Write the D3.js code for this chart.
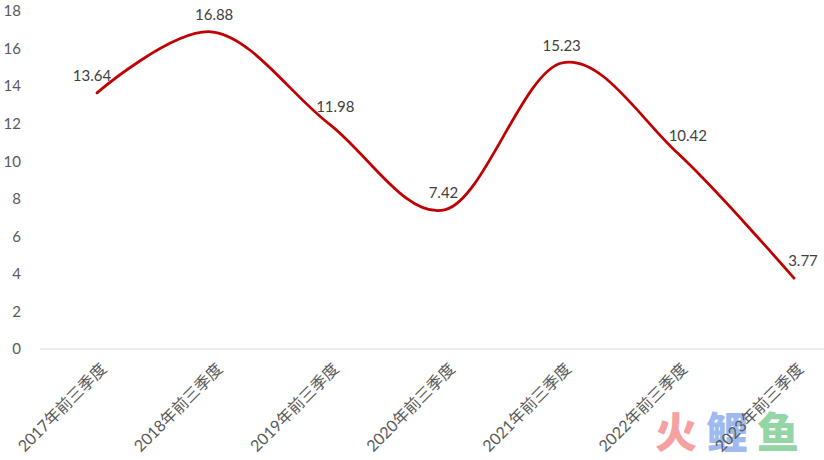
<!DOCTYPE html>
<html>
<head>
<meta charset="utf-8">
<script src="https://cdn.jsdelivr.net/npm/d3@7/dist/d3.min.js"></script>
<style>
  html, body { margin: 0; padding: 0; background: #fff; }
  svg { display: block; }
</style>
</head>
<body>
<svg id="chart" width="824" height="460"></svg>
<script>
const categories = ["2017年前三季度","2018年前三季度","2019年前三季度","2020年前三季度","2021年前三季度","2022年前三季度","2023年前三季度"];
const values = [13.64, 16.88, 11.98, 7.42, 15.23, 10.42, 3.77];
const yTicks = [0, 2, 4, 6, 8, 10, 12, 14, 16, 18];
const labelDx = [-5, 1, 6, -2, 0, 10, 9];

const W = 824, H = 460;
const svg = d3.select("#chart");
const numFont = "Lato, 'Noto Sans', sans-serif";
const cjkFont = "Lato, 'Noto Sans CJK SC', sans-serif";

const x = d3.scalePoint().domain(categories).range([97, 794]);
const y = d3.scaleLinear().domain([0, 18]).range([349, 11]);

// y axis labels (no line)
const yAxis = d3.axisLeft(y).tickValues(yTicks).tickSize(0).tickPadding(0).tickFormat(d3.format("d"));
const yg = svg.append("g").attr("transform", "translate(21,0)").call(yAxis);
yg.select(".domain").remove();
yg.selectAll("text").attr("fill", "#595959").style("font-family", numFont).style("font-size", "15px");

// baseline
svg.append("line").attr("x1", 40).attr("x2", W).attr("y1", y(0)).attr("y2", y(0))
  .attr("stroke", "#d9d9d9").attr("stroke-width", 1);

// watermark
const wm = svg.append("g").attr("opacity", 0.8).style("font-family", "'Noto Sans CJK SC', sans-serif")
  .style("font-weight", "900").style("font-size", "42px");
const wmChars = [["火", "#f58a8a", 655], ["鲤", "#86a9ee", 706], ["鱼", "#79cb8e", 757]];
wm.selectAll("text").data(wmChars).enter().append("text")
  .attr("x", d => d[2]).attr("y", 448).attr("fill", d => d[1]).text(d => d[0]);

// x axis labels
const xAxis = d3.axisBottom(x).tickSize(0).tickPadding(0);
const xg = svg.append("g").attr("transform", `translate(0,${y(0)})`).call(xAxis);
xg.select(".domain").remove();
xg.selectAll("text")
  .attr("fill", "#595959")
  .style("font-family", cjkFont).style("font-size", "16px")
  .attr("text-anchor", "end")
  .attr("dy", null).attr("y", 0)
  .attr("transform", "translate(10,21) rotate(-45)");

// line
const pts = categories.map((c, i) => [x(c), y(values[i])]);
const line = d3.line().curve(d3.curveCardinal.tension(0));
svg.append("path").attr("d", line(pts)).attr("fill", "none")
  .attr("stroke", "#c00000").attr("stroke-width", 2.75).attr("stroke-linecap", "round");

// data labels
svg.append("g").selectAll("text").data(values).enter().append("text")
  .attr("x", (d, i) => x(categories[i]) + labelDx[i])
  .attr("y", d => y(d) - 12)
  .attr("text-anchor", "middle")
  .attr("fill", "#404040")
  .style("font-family", numFont).style("font-size", "15px")
  .text(d => d3.format(".2f")(d));
</script>
</body>
</html>
